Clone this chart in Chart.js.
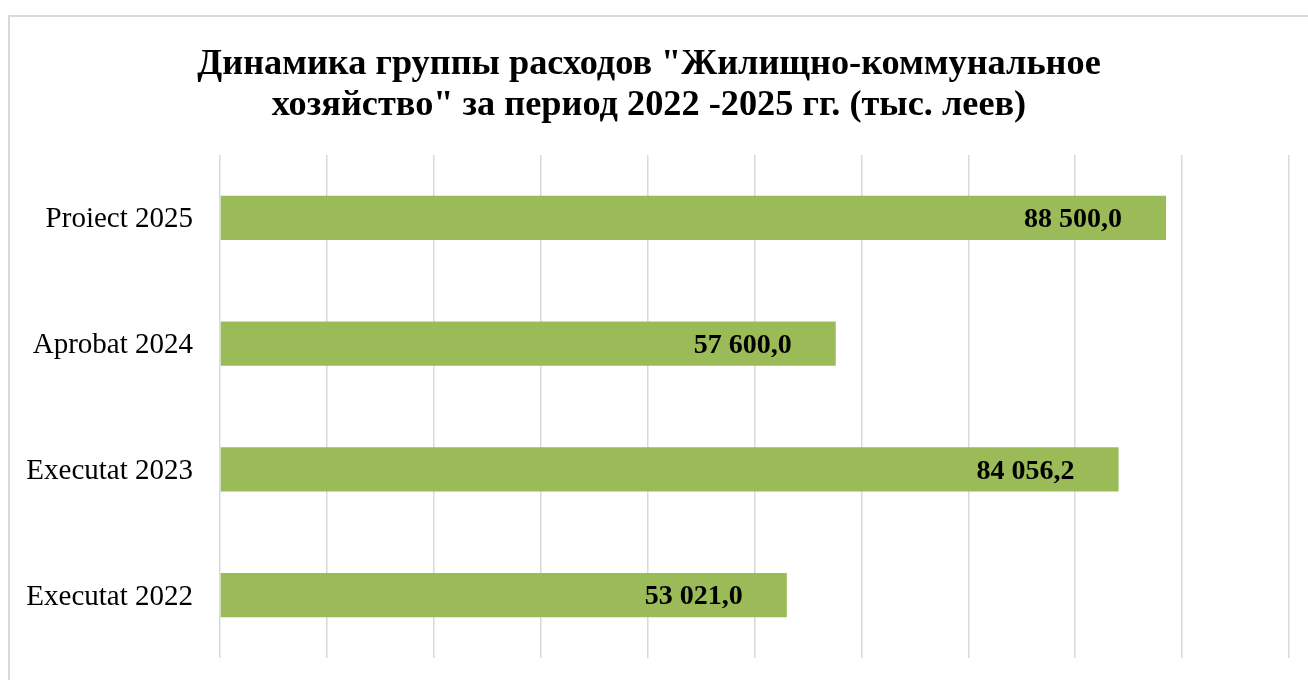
<!DOCTYPE html>
<html>
<head>
<meta charset="utf-8">
<script src="https://cdn.jsdelivr.net/npm/chart.js@4"></script>
<style>
  html, body { margin: 0; padding: 0; background: #fff; }
  #wrap { position: relative; width: 1308px; height: 680px; overflow: hidden; }
  #frame { position: absolute; left: 8px; top: 15px; width: 1320px; height: 700px; border: 2px solid #d9d9d9; box-sizing: border-box; }
  canvas { position: absolute; left: 0; top: 0; }
</style>
</head>
<body>
<div id="wrap">
  <div id="frame"></div>
  <canvas id="c" width="1308" height="680"></canvas>
</div>
<script>
const titleLines = ['Динамика группы расходов "Жилищно-коммунальное', 'хозяйство" за период 2022 -2025 гг. (тыс. леев)'];
const categories = ['Executat 2022', 'Executat 2023', 'Aprobat 2024', 'Proiect 2025'];
const values = [53021.0, 84056.2, 57600.0, 88500.0];
const axisMax = 100000;
const axisStep = 10000;

const serif = "'Liberation Serif', 'Times New Roman', serif";

function fmt(v) {
  const s = v.toFixed(1).split('.');
  const int = s[0].replace(/\B(?=(\d{3})+(?!\d))/g, ' ');
  return int + ',' + s[1];
}

const chartTitle = {
  id: 'chartTitle',
  afterDraw(chart) {
    const ctx = chart.ctx;
    ctx.save();
    ctx.font = 'bold 36.3px ' + serif;
    ctx.fillStyle = '#000';
    ctx.textAlign = 'center';
    ctx.textBaseline = 'middle';
    titleLines.forEach((t, i) => ctx.fillText(t, 649, 64.5 + i * 41));
    ctx.restore();
  }
};

const valueLabels = {
  id: 'valueLabels',
  afterDatasetsDraw(chart) {
    const ctx = chart.ctx;
    const meta = chart.getDatasetMeta(0);
    ctx.save();
    ctx.font = 'bold 28px ' + serif;
    ctx.fillStyle = '#000';
    ctx.textAlign = 'right';
    ctx.textBaseline = 'middle';
    meta.data.forEach((bar, i) => {
      ctx.fillText(fmt(values[i]), bar.x - 44, bar.y + 2);
    });
    ctx.restore();
  }
};

new Chart(document.getElementById('c'), {
  type: 'bar',
  data: {
    labels: categories,
    datasets: [{
      data: values,
      backgroundColor: '#9bbb59',
      borderWidth: 0,
      categoryPercentage: 0.35,
      barPercentage: 1.0
    }]
  },
  options: {
    indexAxis: 'y',
    responsive: false,
    animation: false,
    layout: { padding: { left: 0, right: 19, top: 155, bottom: 22 } },
    plugins: {
      legend: { display: false },
      tooltip: { enabled: false },
      title: { display: false }
    },
    scales: {
      x: {
        min: 0,
        max: axisMax,
        ticks: { display: false, stepSize: axisStep },
        grid: { color: '#d9d9d9', lineWidth: 1.5, drawTicks: false },
        border: { display: false },
        afterFit(s) { s.height = 0; s.paddingLeft = 0; s.paddingRight = 0; }
      },
      y: {
        reverse: true,
        ticks: { color: '#000', font: { family: serif, size: 29 }, padding: 0, labelOffset: 2 },
        grid: { display: false, drawTicks: true, tickLength: 27 },
        border: { display: false },
        afterFit(s) { s.width = 220; s.paddingTop = 0; s.paddingBottom = 0; }
      }
    }
  },
  plugins: [valueLabels, chartTitle]
});
</script>
</body>
</html>
